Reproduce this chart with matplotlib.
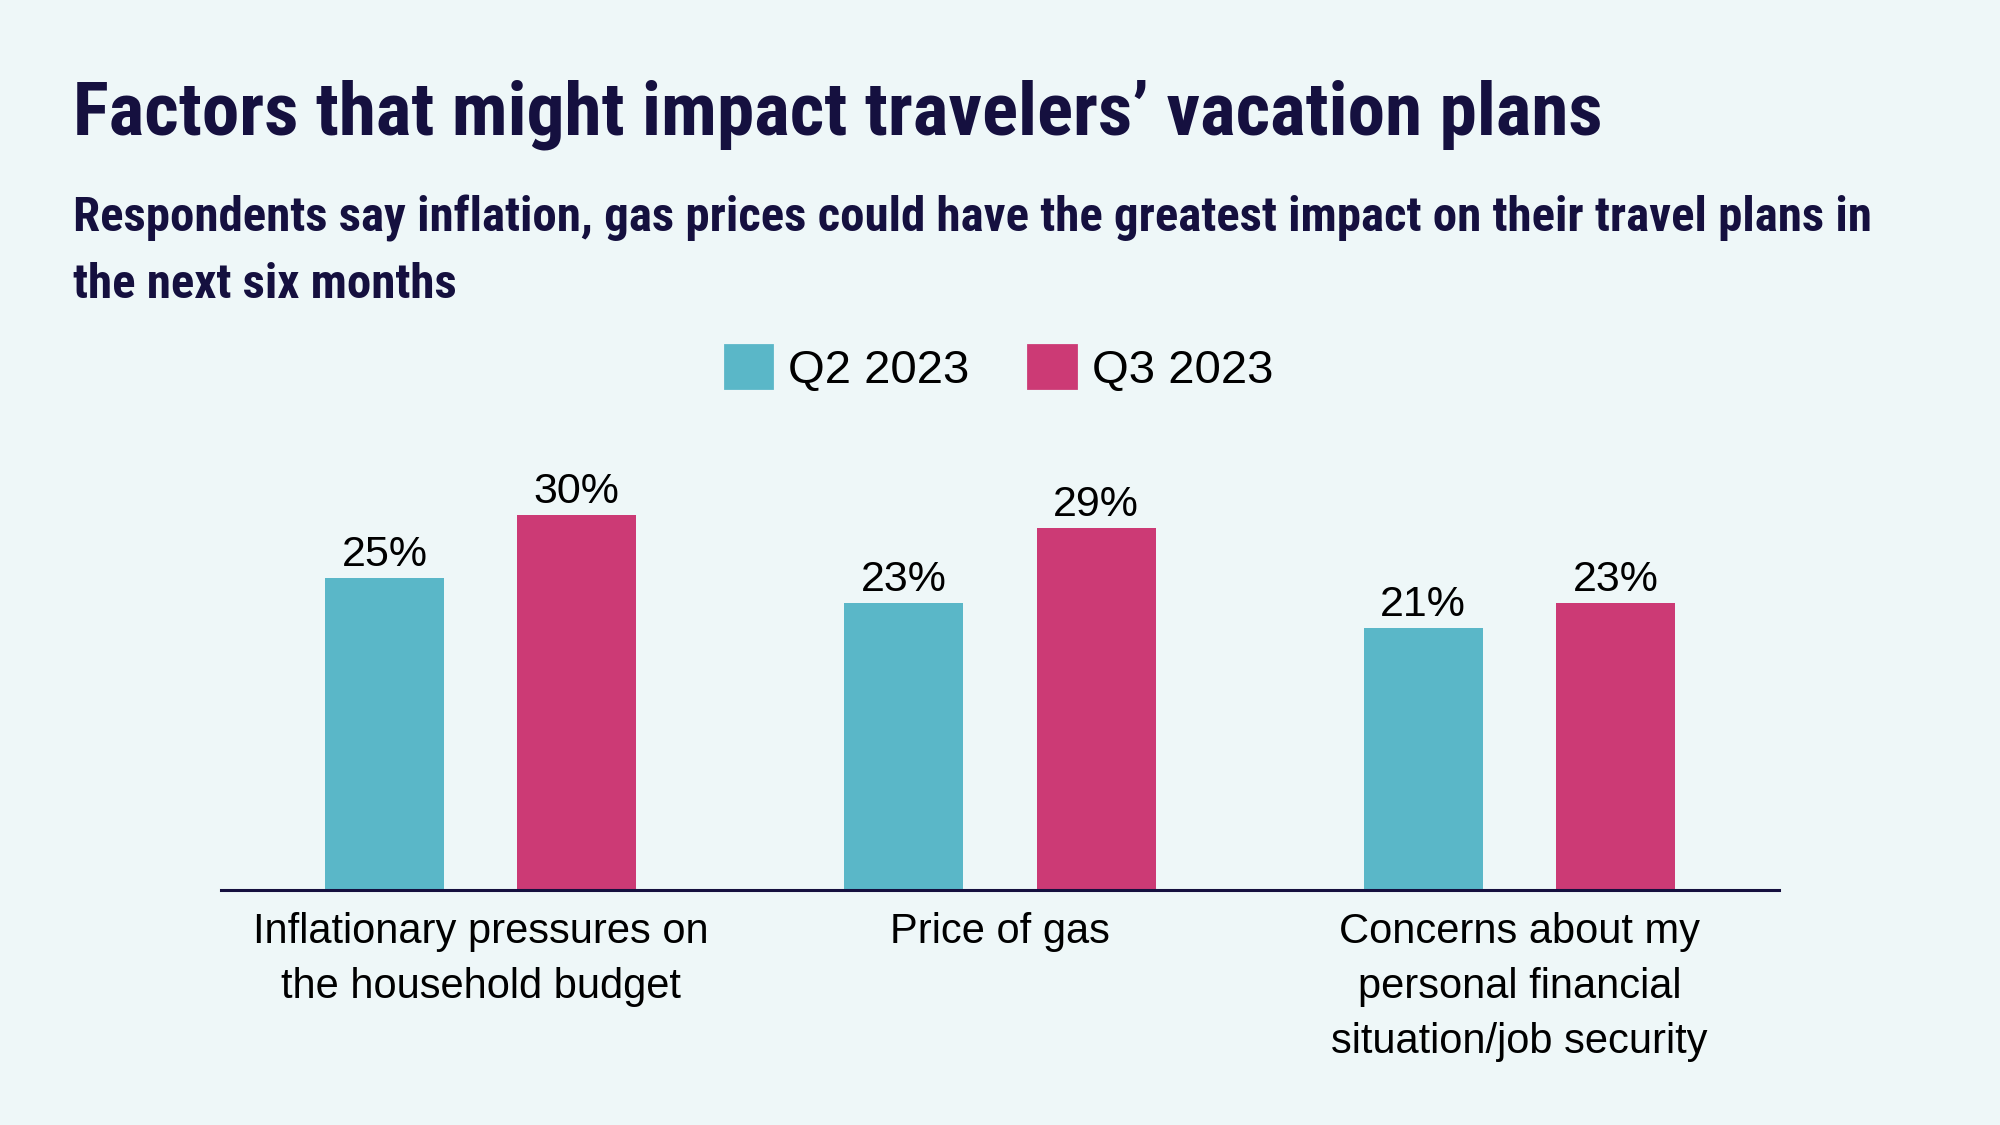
import numpy as np
import matplotlib.pyplot as plt
from matplotlib import font_manager
from matplotlib.patches import Patch

# data
categories = ["Inflationary pressures on\nthe household budget",
              "Price of gas",
              "Concerns about my\npersonal financial\nsituation/job security"]
q2_2023 = [25, 23, 21]
q3_2023 = [30, 29, 23]
series_names = ["Q2 2023", "Q3 2023"]

title = "Factors that might impact travelers\u2019 vacation plans"
subtitle_1 = "Respondents say inflation, gas prices could have the greatest impact on their travel plans in"
subtitle_2 = "the next six months"

BG = "#EEF7F8"
NAVY = "#15103F"
TEAL = "#5AB7C8"
PINK = "#CC3A75"
BODY = ["Liberation Sans", "DejaVu Sans"]


def condensed_bold():
    # look for a narrow / condensed bold face among the installed fonts
    prefs = ["roboto condensed", "liberation sans narrow", "dejavu sans condensed",
             "open sans condensed", "noto sans condensed", "roboto"]
    found = {}
    for f in font_manager.fontManager.ttflist:
        name = f.name.lower()
        fn = f.fname.lower()
        heavy = (isinstance(f.weight, int) and f.weight >= 700) or f.weight in ("bold", "heavy", "black")
        if not heavy or "italic" in fn or "oblique" in fn:
            continue
        for p in prefs:
            key = p.replace(" ", "")
            if key in fn.replace("-", "").replace("_", "") or (p == name and f.stretch != "normal"):
                found.setdefault(p, f.fname)
    for p in prefs:
        if p in found:
            return font_manager.FontProperties(fname=found[p])
    return font_manager.FontProperties(family="DejaVu Sans", weight="bold")


HEADFP = condensed_bold()

W, H = 2000, 1125
fig = plt.figure(figsize=(10, 5.625), dpi=200, facecolor=BG)


def fx(px):
    return px / W


def fy(py):
    return 1 - py / H


ax = fig.add_axes([fx(221), fy(890), fx(1779) - fx(221), fy(400) - fy(890)])
ax.set_facecolor(BG)

x = np.arange(len(categories))
width = 0.229
off = 0.185
b1 = ax.bar(x - off, q2_2023, width, color=TEAL)
b2 = ax.bar(x + off, q3_2023, width, color=PINK)
for bars in (b1, b2):
    ax.bar_label(bars, labels=[f"{v}%" for v in bars.datavalues], padding=1,
                 fontsize=15.5, family=BODY, color="black")

ax.set_xlim(-0.5, 2.5)
ax.set_ylim(0, 39.2)
ax.set_yticks([])
ax.set_xticks(x)
ax.set_xticklabels(categories, fontsize=15, family=BODY, color="black",
                   linespacing=1.48)
ax.tick_params(axis="x", length=0, pad=8)
for s in ("top", "left", "right"):
    ax.spines[s].set_visible(False)
ax.spines["bottom"].set_color(NAVY)
ax.spines["bottom"].set_linewidth(1.1)

handles = [Patch(color=TEAL), Patch(color=PINK)]
fig.legend(handles, series_names, loc="center", bbox_to_anchor=(0.4995, fy(369)),
           ncol=2, frameon=False, prop={"family": BODY, "size": 17},
           handlelength=1.0, handleheight=1.0, handletextpad=0.34,
           columnspacing=1.25, borderpad=0)

renderer = fig.canvas.get_renderer()


def head_text(px, py, s, target_w, size):
    fp = HEADFP.copy()
    fp.set_size(size)
    t = fig.text(fx(px), fy(py), s, fontproperties=fp, color=NAVY, va="baseline")
    w = t.get_window_extent(renderer=renderer).width
    fp.set_size(size * target_w / w)
    t.set_fontproperties(fp)
    return t


head_text(73, 134, title, 1532, 30)
sub = head_text(73, 232, subtitle_1, 1794, 17)
fp2 = sub.get_fontproperties().copy()
fig.text(fx(73), fy(298), subtitle_2, fontproperties=fp2, color=NAVY, va="baseline")

fig.savefig("out.png", dpi=200, facecolor=BG)
